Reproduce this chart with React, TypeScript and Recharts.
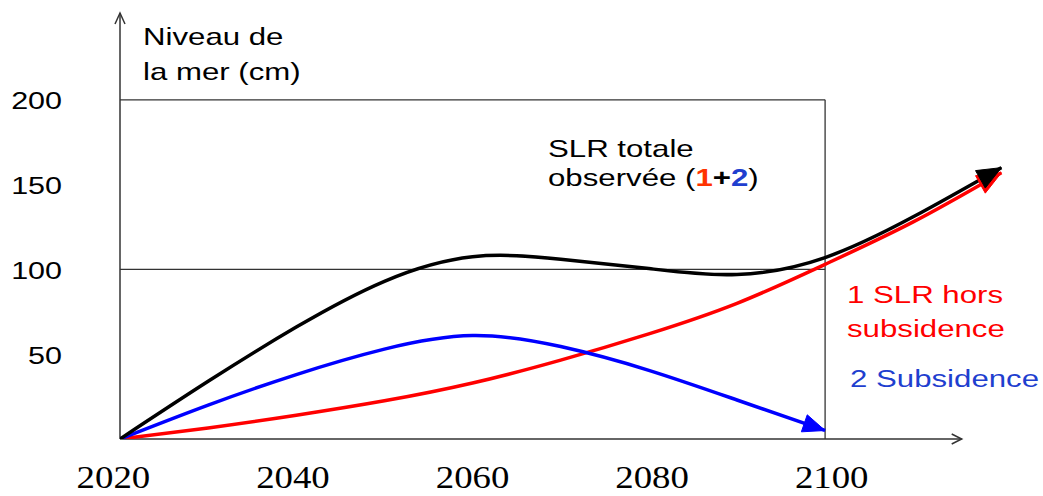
import { LineChart, Line, XAxis, YAxis, ReferenceLine } from 'recharts';

// values (cm)
const years = [2020, 2030, 2040, 2050, 2060, 2070, 2080, 2090, 2100, 2110, 2120];
const slrTotale = [0, 34, 66, 93, 107.5, 106, 100.5, 97, 107, 131, 160];
const slrHorsSubsidence = [0, 6.5, 14, 22.5, 33, 46.5, 62, 80, 103, 128, 157];
const subsidenceYears = [2020, 2030, 2040, 2050, 2060, 2070, 2080, 2090, 2100];
const subsidence = [0, 20, 38, 53, 61, 54.5, 40.5, 23, 5];
const xTicks = [2020, 2040, 2060, 2080, 2100];
const yTicks = [50, 100, 150, 200];

const totaleData = years.map((year, i) => ({ year, value: slrTotale[i] }));
const horsData = years.map((year, i) => ({ year, value: slrHorsSubsidence[i] }));
const subsidenceData = subsidenceYears.map((year, i) => ({ year, value: subsidence[i] }));

const SANS = '"Liberation Sans", Arial, sans-serif';
const SERIF = '"Liberation Serif", "Times New Roman", serif';
const AXIS = '#333';
const STRETCH = 1.3;

// filled arrow head on the last point of a series
function arrowDot(lastIndex: number, color: string, len = 24, half = 10) {
  return (props: any) => {
    const { cx, cy, index, points } = props;
    if (index !== lastIndex || cx == null || cy == null || !points || !points[index - 1]) {
      return <g key={`d-${index}`} />;
    }
    const prev = points[index - 1];
    const a = Math.atan2(cy - prev.y, cx - prev.x);
    const bx = cx - len * Math.cos(a);
    const by = cy - len * Math.sin(a);
    const nx = -Math.sin(a) * half;
    const ny = Math.cos(a) * half;
    const pts = `${cx},${cy} ${bx + nx},${by + ny} ${bx - nx},${by - ny}`;
    return <polygon key={`d-${index}`} points={pts} fill={color} stroke={color} strokeWidth={1} />;
  };
}

function YTick(props: any) {
  const { y, payload } = props;
  return (
    <text
      transform={`translate(62, ${y + 9.5}) scale(${STRETCH - 0.03}, 1)`}
      textAnchor="end"
      fontFamily={SANS}
      fontSize={24}
      fill="#000"
    >
      {payload.value}
    </text>
  );
}

function XTick(props: any) {
  const { x, payload } = props;
  const dx = (payload.value - 2060) * 0.165;
  return (
    <text
      transform={`translate(${x + dx}, 488) scale(1.15, 1)`}
      textAnchor="middle"
      fontFamily={SERIF}
      fontSize={32}
      fill="#000"
    >
      {payload.value}
    </text>
  );
}

function YArrowAxis(props: any) {
  const { x1, y1, x2, y2 } = props;
  return (
    <g stroke={AXIS} strokeWidth={1.5} fill="none">
      <line x1={x1} y1={y1} x2={x2} y2={y2 - 2} />
      <polyline points={`${x2 - 5},${y2 + 9} ${x2},${y2 - 2} ${x2 + 5},${y2 + 9}`} />
    </g>
  );
}

function XArrowAxis(props: any) {
  const { x1, y1, x2, y2 } = props;
  return (
    <g stroke={AXIS} strokeWidth={1.5} fill="none">
      <line x1={x1} y1={y1} x2={x2} y2={y2} />
      <polyline points={`${x2 - 10},${y2 - 5} ${x2},${y2} ${x2 - 10},${y2 + 5}`} />
    </g>
  );
}

function Label({ x, y, color = '#000', children }: any) {
  return (
    <text
      transform={`translate(${x}, ${y}) scale(${STRETCH}, 1)`}
      fontFamily={SANS}
      fontSize={24}
      fill={color}
    >
      {children}
    </text>
  );
}

export default function App() {
  return (
    <div style={{ position: 'absolute', left: 0, top: 0, background: '#fff' }}>
      <LineChart width={1043} height={496} margin={{ top: 15, right: 24, bottom: 0, left: 0 }}>
        <XAxis
          type="number"
          dataKey="year"
          domain={[2020, 2122]}
          ticks={xTicks}
          axisLine={false}
          tickLine={false}
          height={57}
          tick={<XTick />}
          allowDataOverflow
        />
        <YAxis
          type="number"
          domain={[0, 250]}
          ticks={yTicks}
          axisLine={false}
          tickLine={false}
          width={120}
          tick={<YTick />}
          allowDataOverflow
        />

        <ReferenceLine segment={[{ x: 2020, y: 200 }, { x: 2100, y: 200 }]} stroke={AXIS} strokeWidth={1.3} />
        <ReferenceLine segment={[{ x: 2020, y: 100 }, { x: 2100, y: 100 }]} stroke={AXIS} strokeWidth={1.3} />
        <ReferenceLine segment={[{ x: 2100, y: 0 }, { x: 2100, y: 200 }]} stroke={AXIS} strokeWidth={1.3} />
        <ReferenceLine segment={[{ x: 2020, y: 0 }, { x: 2020, y: 250 }]} shape={YArrowAxis} />
        <ReferenceLine segment={[{ x: 2020, y: 0 }, { x: 2115.5, y: 0 }]} shape={XArrowAxis} />

        <Line
          data={horsData}
          dataKey="value"
          type="natural"
          stroke="#ff0000"
          strokeWidth={3.5}
          dot={arrowDot(horsData.length - 1, '#ff0000')}
          activeDot={false}
          isAnimationActive={false}
        />
        <Line
          data={subsidenceData}
          dataKey="value"
          type="natural"
          stroke="#0000ff"
          strokeWidth={3.5}
          dot={arrowDot(subsidenceData.length - 1, '#0000ff', 22, 9)}
          activeDot={false}
          isAnimationActive={false}
        />
        <Line
          data={totaleData}
          dataKey="value"
          type="natural"
          stroke="#000000"
          strokeWidth={3.5}
          dot={arrowDot(totaleData.length - 1, '#000000')}
          activeDot={false}
          isAnimationActive={false}
        />

        <Label x={143} y={45}>Niveau de</Label>
        <Label x={143} y={80}>la mer (cm)</Label>
        <Label x={548} y={157}>SLR totale</Label>
        <text transform={`translate(548, 186) scale(${STRETCH}, 1)`} fontFamily={SANS} fontSize={24} fill="#000">
          observée (
          <tspan fill="#ff3300" fontWeight="bold">1</tspan>
          <tspan fontWeight="bold">+</tspan>
          <tspan fill="#1f3fcf" fontWeight="bold">2</tspan>)
        </text>
        <Label x={847} y={303} color="#ff0000">1 SLR hors</Label>
        <Label x={847} y={337} color="#ff0000">subsidence</Label>
        <Label x={850} y={387} color="#1f3fcf">2 Subsidence</Label>
      </LineChart>
    </div>
  );
}
